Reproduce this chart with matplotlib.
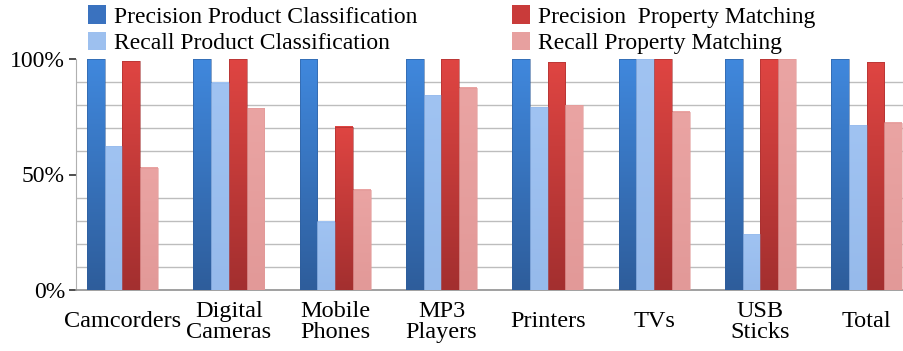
import numpy as np
import matplotlib.pyplot as plt
from matplotlib.colors import LinearSegmentedColormap
from matplotlib.patches import Patch

categories = ['Camcorders', 'Digital\nCameras', 'Mobile\nPhones', 'MP3\nPlayers',
              'Printers', 'TVs', 'USB\nSticks', 'Total']
series_names = ['Precision Product Classification', 'Recall Product Classification',
                'Precision  Property Matching', 'Recall Property Matching']
prec_product = [100, 100, 100, 100, 100, 100, 100, 100]
rec_product = [62.3, 89.7, 29.6, 84.4, 79.1, 100, 24.2, 71.4]
prec_property = [99.1, 100, 70.7, 100, 98.7, 100, 100, 98.6]
rec_property = [53.0, 78.6, 43.4, 87.6, 80.0, 77.2, 100, 72.3]

# (top colour, bottom colour) for each series
fills = [('#4088dd', '#2e5d9b'),
         ('#a0c3f2', '#96baeb'),
         ('#df4542', '#a32f2f'),
         ('#eaa4a3', '#e29998')]
legend_colors = ['#3a72bf', '#9dc0ef', '#c93b3a', '#e7a09f']

plt.rcParams['font.family'] = ['Liberation Serif', 'DejaVu Serif']

fig = plt.figure(figsize=(9.04, 3.51), dpi=100)
ax = fig.add_axes([76 / 904, 61 / 351, 828 / 904, 231 / 351])

x = np.arange(len(categories))
width = 0.1665
all_series = [prec_product, rec_product, prec_property, rec_property]

for i, (vals, (top, bottom)) in enumerate(zip(all_series, fills)):
    cmap = LinearSegmentedColormap.from_list('grad%d' % i, [bottom, top])
    grad = np.linspace(0, 1, 128).reshape(-1, 1)
    for xc, v in zip(x + (i - 1.5) * width, vals):
        ax.imshow(grad, cmap=cmap, origin='lower', aspect='auto',
                  extent=(xc - width / 2, xc + width / 2, 0, v), zorder=3)
        ax.bar(xc, v, width, fill=False, edgecolor=bottom, linewidth=0.4, zorder=4)

ax.set_xlim(-0.437, 7.35)
ax.set_ylim(0, 100)

ax.set_yticks([0, 50, 100])
ax.set_yticklabels(['0%', '50%', '100%'], fontsize=17)
ax.set_yticks(np.arange(0, 101, 10), minor=True)
ax.yaxis.grid(True, which='minor', color='#bdbdbd', linewidth=1.0, zorder=0)
ax.tick_params(axis='y', which='major', length=5, width=1.2, color='#303030', pad=3)
ax.tick_params(axis='y', which='minor', length=0)

ax.set_xticks(x)
ax.set_xticklabels(categories, fontsize=17.5, linespacing=1.0, va='center')
ax.tick_params(axis='x', length=0, pad=23)

for side in ['top', 'right']:
    ax.spines[side].set_visible(False)
ax.spines['left'].set_color('#b0b0b0')
ax.spines['bottom'].set_color('#909090')
ax.spines['bottom'].set_linewidth(1.2)

handles = [Patch(facecolor=c, edgecolor='none') for c in legend_colors]
fig.legend(handles, series_names, ncol=2, loc='upper left',
           bbox_to_anchor=(74 / 904, 1.025), frameon=False, fontsize=17,
           handlelength=0.75, handleheight=0.85, handletextpad=0.35,
           columnspacing=4.0, labelspacing=0.15, borderpad=0.1)

fig.savefig('out.png', dpi=100)
